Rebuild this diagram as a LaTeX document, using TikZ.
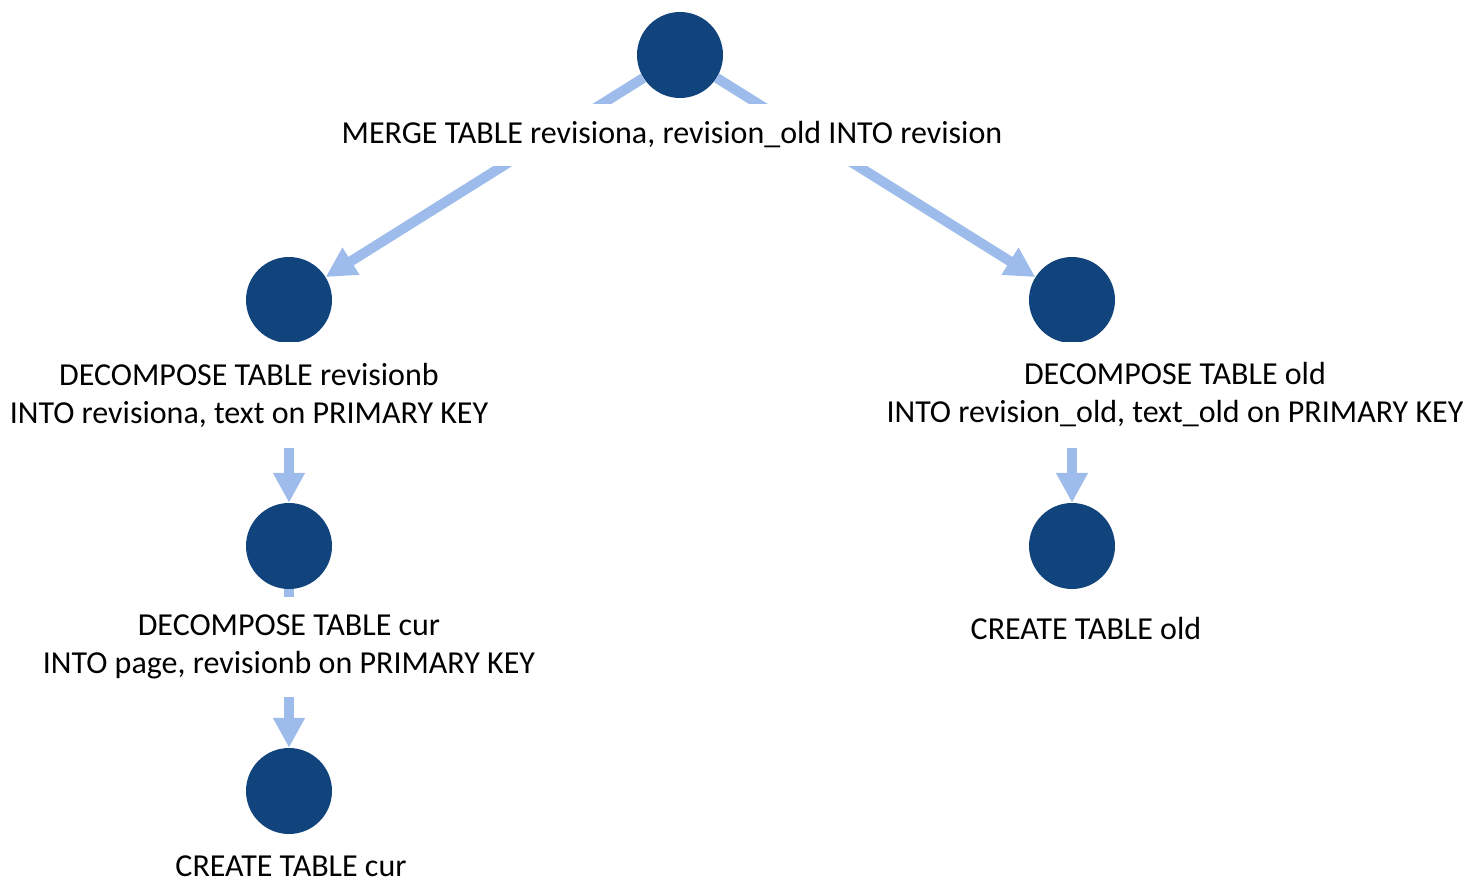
\documentclass[tikz,border=0pt]{standalone}
\usepackage{fontspec}
\setmainfont{Carlito}
\usetikzlibrary{arrows.meta}
\definecolor{nodeblue}{RGB}{17,67,124}
\definecolor{edgeblue}{RGB}{157,188,235}
\begin{document}
\begin{tikzpicture}[x=1pt,y=-1pt,
  vert/.style={circle,fill=nodeblue,minimum size=86pt,inner sep=0pt},
  lbl/.style={fill=white,align=center,inner xsep=4pt,inner ysep=18pt,font=\fontsize{32}{38}\selectfont},
  edge/.style={draw=edgeblue,line width=10pt,-{Triangle[length=30pt,width=30pt]}}]
\useasboundingbox (0,0) rectangle (1463,878);
% vertices
\node[vert] (top) at (680,55) {};
\node[vert] (l1) at (289,300) {};
\node[vert] (r1) at (1072,300) {};
\node[vert] (l2) at (289,546) {};
\node[vert] (r2) at (1072,546) {};
\node[vert] (l3) at (289,791) {};
% edges
\draw[edge] (top) -- (l1);
\draw[edge] (top) -- (r1);
\draw[edge] (l1) -- (l2);
\draw[edge] (r1) -- (r2);
\draw[edge] (l2) -- (l3);
% labels
\node[lbl] (ttop) at (672,135) {MERGE TABLE revisiona,\ revision\_old\ INTO revision};
\node[lbl,inner ysep=21pt] (tl1) at (249,395) {DECOMPOSE TABLE revisionb\\INTO revisiona, text on PRIMARY KEY};
\node[lbl,inner ysep=21pt] (tr1) at (1175,395) {DECOMPOSE TABLE old\\INTO revision\_old, text\_old on PRIMARY KEY};
\node[lbl] (tl2) at (289,647) {DECOMPOSE TABLE cur\\INTO page, revisionb on PRIMARY KEY};
\node[lbl] (tr2) at (1086,628) {CREATE TABLE old};
\node[lbl] (tl3) at (291,866) {CREATE TABLE cur};
\end{tikzpicture}
\end{document}
